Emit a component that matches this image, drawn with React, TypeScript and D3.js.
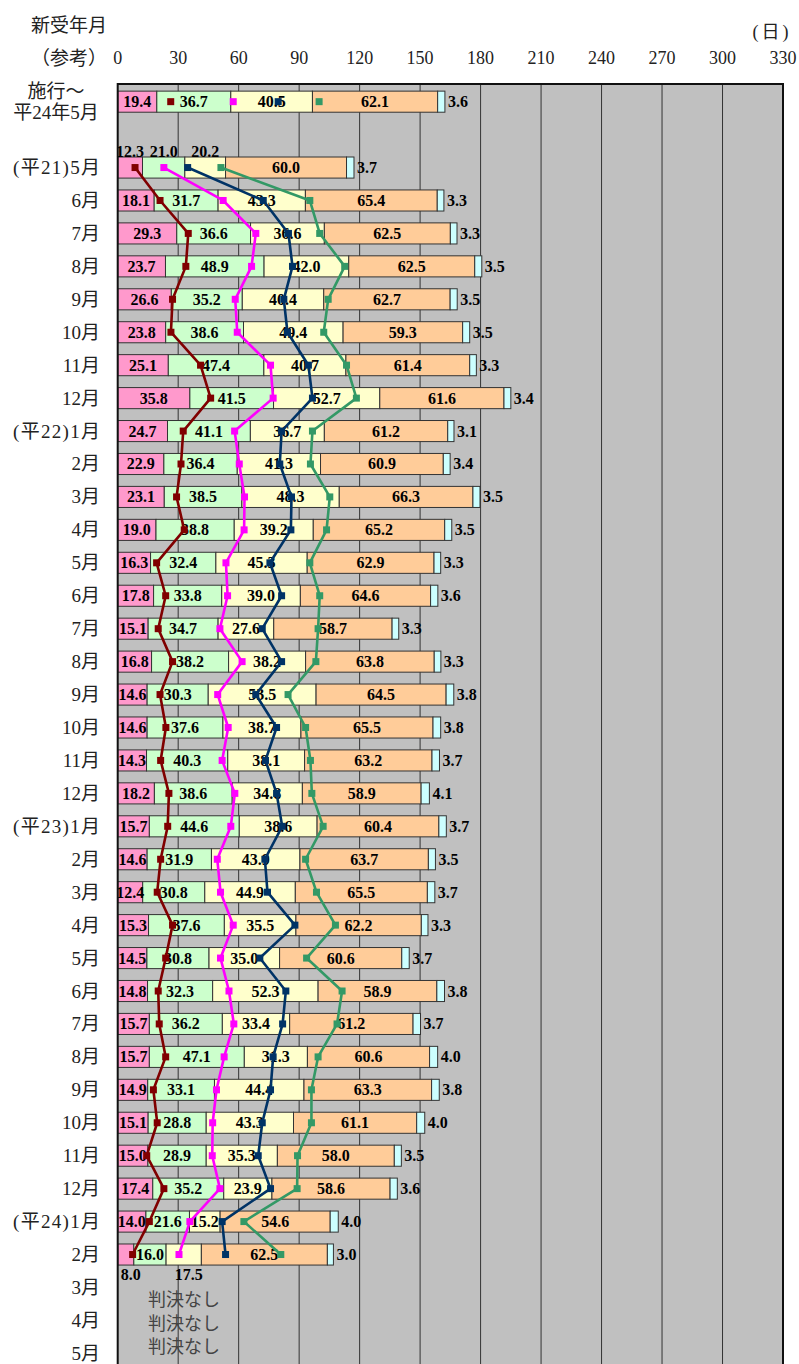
import React from 'react';
import * as d3 from 'd3';

// ---- data ----
const rowLabels: string[] = [
  '施行～|平24年5月', '',
  '(平21)5月', '6月', '7月', '8月', '9月', '10月', '11月', '12月',
  '(平22)1月', '2月', '3月', '4月', '5月', '6月', '7月', '8月', '9月', '10月', '11月', '12月',
  '(平23)1月', '2月', '3月', '4月', '5月', '6月', '7月', '8月', '9月', '10月', '11月', '12月',
  '(平24)1月', '2月', '3月', '4月', '5月',
];

const N = null;
const seg1 = [19.4, N, 12.3, 18.1, 29.3, 23.7, 26.6, 23.8, 25.1, 35.8, 24.7, 22.9, 23.1, 19.0, 16.3, 17.8, 15.1, 16.8, 14.6, 14.6, 14.3, 18.2, 15.7, 14.6, 12.4, 15.3, 14.5, 14.8, 15.7, 15.7, 14.9, 15.1, 15.0, 17.4, 14.0, 8.0, N, N, N];
const seg2 = [36.7, N, 21.0, 31.7, 36.6, 48.9, 35.2, 38.6, 47.4, 41.5, 41.1, 36.4, 38.5, 38.8, 32.4, 33.8, 34.7, 38.2, 30.3, 37.6, 40.3, 38.6, 44.6, 31.9, 30.8, 37.6, 30.8, 32.3, 36.2, 47.1, 33.1, 28.8, 28.9, 35.2, 21.6, 16.0, N, N, N];
const seg3 = [40.5, N, 20.2, 43.3, 36.6, 42.0, 40.4, 49.4, 40.7, 52.7, 36.7, 41.3, 48.3, 39.2, 45.3, 39.0, 27.6, 38.2, 53.5, 38.7, 38.1, 34.8, 38.6, 43.9, 44.9, 35.5, 35.0, 52.3, 33.4, 31.3, 44.4, 43.3, 35.3, 23.9, 15.2, 17.5, N, N, N];
const seg4 = [62.1, N, 60.0, 65.4, 62.5, 62.5, 62.7, 59.3, 61.4, 61.6, 61.2, 60.9, 66.3, 65.2, 62.9, 64.6, 58.7, 63.8, 64.5, 65.5, 63.2, 58.9, 60.4, 63.7, 65.5, 62.2, 60.6, 58.9, 61.2, 60.6, 63.3, 61.1, 58.0, 58.6, 54.6, 62.5, N, N, N];
const seg5 = [3.6, N, 3.7, 3.3, 3.3, 3.5, 3.5, 3.5, 3.3, 3.4, 3.1, 3.4, 3.5, 3.5, 3.3, 3.6, 3.3, 3.3, 3.8, 3.8, 3.7, 4.1, 3.7, 3.5, 3.7, 3.3, 3.7, 3.8, 3.7, 4.0, 3.8, 4.0, 3.5, 3.6, 4.0, 3.0, N, N, N];

const lineRed = [26.3, N, 8.6, 21.0, 35.0, 33.8, 27.2, 26.4, 41.1, 46.1, 32.5, 31.4, 29.2, 33.0, 19.3, 23.8, 20.1, 27.2, 21.0, 23.9, 21.3, 25.4, 24.8, 21.3, 19.6, 27.2, 23.8, 20.1, 20.6, 23.8, 17.7, 19.6, 14.4, 22.9, 15.7, 7.4, N, N, N];
const lineMagenta = [57.3, N, 22.9, 52.3, 68.5, 66.4, 58.3, 59.3, 75.8, 77.1, 58.0, 60.3, 62.9, 62.7, 53.7, 54.5, 50.7, 61.7, 49.6, 54.8, 51.8, 58.1, 56.1, 49.4, 51.0, 57.3, 51.0, 55.2, 57.6, 52.8, 49.0, 47.1, 46.9, 50.7, 35.8, 30.4, N, N, N];
const lineNavy = [79.6, N, 34.7, 72.2, 84.7, 86.7, 82.4, 84.2, 94.6, 96.6, 81.3, 80.4, 86.2, 85.9, 75.5, 81.3, 71.7, 81.3, 68.5, 78.8, 73.3, 78.8, 81.6, 73.0, 74.3, 87.9, 70.5, 83.4, 81.8, 77.1, 75.8, 71.7, 69.7, 75.8, 51.8, 53.5, N, N, N];
const lineGreen = [99.9, N, 51.2, 95.3, 100.2, 112.6, 104.4, 102.2, 113.5, 118.4, 96.6, 95.6, 105.2, 103.6, 95.3, 100.2, 99.4, 98.3, 84.5, 93.2, 95.6, 96.3, 101.9, 93.2, 98.6, 108.0, 93.7, 111.3, 108.8, 99.4, 96.1, 96.1, 89.2, 89.0, 62.6, 80.9, N, N, N];

const xTicks = [0, 30, 60, 90, 120, 150, 180, 210, 240, 270, 300, 330];
const noVerdict = ['判決なし', '判決なし', '判決なし'];

// ---- style ----
const segColors = ['#FF99CC', '#CCFFCC', '#FFFFCC', '#FFCC99', '#CCFFFF'];
const lineColors = ['#800000', '#FF00FF', '#003366', '#339966'];
const serif = "'Liberation Serif', 'DejaVu Serif', 'Noto Sans CJK JP', serif";
const jp = "'Liberation Serif', 'Noto Sans CJK JP', serif";

export default function App() {
  const W = 799, H = 1364;
  const x = d3.scaleLinear().domain([0, 330]).range([117.7, 783]);
  const idx = d3.range(rowLabels.length);
  const y = d3.scaleBand<number>().domain(idx).range([85.2, 1369.8]).paddingInner(0.36).paddingOuter(0.18);
  const bw = y.bandwidth();
  const cy = (i: number) => (y(i) as number) + bw / 2;

  const keys = ['s1', 's2', 's3', 's4', 's5'];
  const table = idx.filter(i => seg1[i] != null).map(i => ({
    i, s1: seg1[i] as number, s2: seg2[i] as number, s3: seg3[i] as number, s4: seg4[i] as number, s5: seg5[i] as number,
  }));
  const stacked = d3.stack<any>().keys(keys)(table);

  const lines = [lineRed, lineMagenta, lineNavy, lineGreen];
  const lineGen = d3.line<number | null>()
    .defined(d => d != null)
    .x(d => x(d as number))
    .y((_, i) => cy(i));

  const plotTop = 84, plotBottom = 1370;

  return (
    <div style={{ position: 'absolute', left: 0, top: 0 }}>
      <svg width={W} height={H} style={{ display: 'block', background: '#fff' }}>
        {/* header texts */}
        <text x={69} y={25} textAnchor="middle" dominantBaseline="central" fontFamily={jp} fontSize={19} fill="#222">新受年月</text>
        <text x={69} y={58} textAnchor="middle" dominantBaseline="central" fontFamily={jp} fontSize={19} fill="#222">（参考）</text>
        <text x={772} y={32} textAnchor="middle" dominantBaseline="central" fontFamily={jp} fontSize={18} fill="#222" letterSpacing={3}>(日)</text>
        {xTicks.map(t => (
          <text key={t} x={x(t)} y={58} textAnchor="middle" dominantBaseline="central" fontFamily={serif} fontSize={18} fill="#222">{t}</text>
        ))}

        {/* plot area */}
        <rect x={x(0)} y={plotTop} width={x(330) - x(0)} height={plotBottom - plotTop} fill="#C0C0C0" />
        {xTicks.slice(1, -1).map(t => (
          <line key={t} x1={x(t)} x2={x(t)} y1={plotTop} y2={plotBottom} stroke="#333" strokeWidth={1} />
        ))}

        {/* bars */}
        {stacked.map((layer, k) => (
          <g key={k}>
            {layer.map((d: any) => (
              <rect key={d.data.i} x={x(d[0])} y={y(d.data.i)} width={x(d[1]) - x(d[0])} height={bw}
                fill={segColors[k]} stroke="#333" strokeWidth={1} />
            ))}
          </g>
        ))}

        {/* bar labels */}
        {stacked.map((layer, k) => (
          <g key={'l' + k}>
            {layer.map((d: any) => {
              const i = d.data.i;
              const v = d.data[keys[k]] as number;
              let lx = (x(d[0]) + x(d[1])) / 2;
              let ly = cy(i);
              let anchor: any = 'middle';
              if (k === 4) { lx = x(d[1]) + 3; anchor = 'start'; }
              if (i === 2 && k < 3) ly = (y(i) as number) - 6;
              if (i === 35 && (k === 0 || k === 2)) { ly = (y(i) as number) + bw + 9; lx += 5; }
              return (
                <text key={i} x={lx} y={ly} textAnchor={anchor} dominantBaseline="central"
                  fontFamily={serif} fontSize={16} fontWeight="bold" fill="#000">{v.toFixed(1)}</text>
              );
            })}
          </g>
        ))}

        {/* lines */}
        {lines.map((arr, k) => (
          <g key={'ln' + k}>
            <path d={lineGen(arr) || ''} fill="none" stroke={lineColors[k]} strokeWidth={2.6} strokeLinejoin="round" />
            {arr.map((v, i) => v == null ? null : (
              <rect key={i} x={x(v) - 3.5} y={cy(i) - 3.5} width={7} height={7} fill={lineColors[k]} />
            ))}
          </g>
        ))}

        {/* plot border */}
        <rect x={x(0)} y={plotTop} width={x(330) - x(0)} height={plotBottom - plotTop} fill="none" stroke="#111" strokeWidth={2} />

        {/* row labels */}
        {rowLabels.map((lab, i) => {
          if (!lab) return null;
          if (lab.includes('|')) {
            const [a, b] = lab.split('|');
            return (
              <g key={i}>
                <text x={56} y={cy(i) - 10} textAnchor="middle" dominantBaseline="central" fontFamily={jp} fontSize={19} fill="#222">{a}</text>
                <text x={56} y={cy(i) + 11} textAnchor="middle" dominantBaseline="central" fontFamily={jp} fontSize={19} fill="#222">{b}</text>
              </g>
            );
          }
          const wide = lab.startsWith('(');
          return (
            <text key={i} x={wide ? 101.3 : 100} y={cy(i)} textAnchor="end" dominantBaseline="central"
              fontFamily={jp} fontSize={19} fill="#222" letterSpacing={wide ? 1.3 : 0}>{lab}</text>
          );
        })}

        {/* no verdict notes */}
        {noVerdict.map((t, k) => (
          <text key={k} x={148} y={cy(36) + 13 + k * 23.5} dominantBaseline="central" fontFamily={jp} fontSize={18} fill="#444">{t}</text>
        ))}
      </svg>
    </div>
  );
}
